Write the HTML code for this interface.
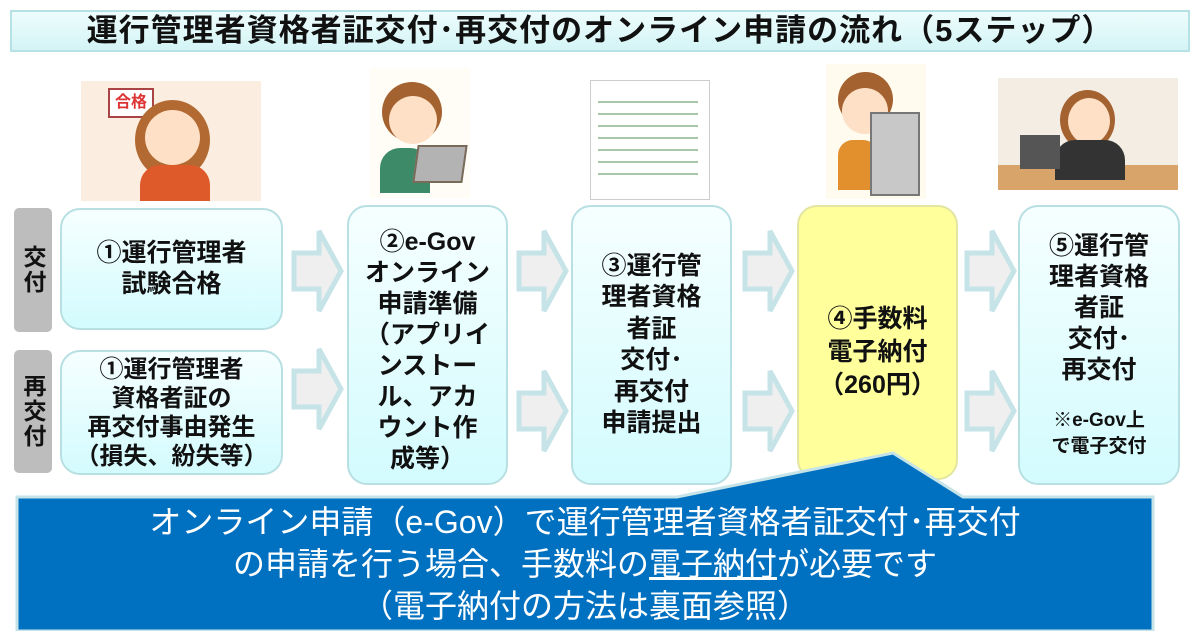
<!DOCTYPE html>
<html><head><meta charset="utf-8"><style>
*{margin:0;padding:0;box-sizing:border-box}
body{width:1200px;height:631px;background:#fff;position:relative;overflow:hidden;font-family:"Liberation Sans","Noto Sans CJK JP",sans-serif;font-weight:bold;color:#111}
.a{position:absolute}
.title{left:10px;top:10px;width:1180px;height:42px;background:linear-gradient(#eefcfc,#d4f4f6);border:2px solid #b6e2e6;font-size:31px;text-align:center;line-height:38px;letter-spacing:1px}
.side{background:#bdbdbd;border-radius:5px;width:38px;font-size:23px;display:flex;align-items:center;justify-content:center;writing-mode:vertical-rl;text-orientation:upright;letter-spacing:2px}
.box{background:linear-gradient(#f6ffff,#d3fbfe);border:2px solid #b8dfe2;border-radius:20px;display:flex;align-items:center;justify-content:center;text-align:center;font-size:25px;line-height:31px;white-space:nowrap}
.yel{background:#ffff9c;border-color:#e3e6a0}
</style></head><body>
<div class="a title">運行管理者資格者証交付･再交付のオンライン申請の流れ（5ステップ）</div>

<div class="a" style="left:81px;top:81px;width:180px;height:120px;background:#fbeee0"></div>
<div class="a" style="left:108px;top:88px;width:46px;height:30px;background:#fff;border:2px solid #a44;color:#d33;font-size:16px;text-align:center;line-height:26px">合格</div>
<div class="a" style="left:135px;top:100px;width:75px;height:80px;border-radius:50%;background:#b26a32"></div>
<div class="a" style="left:145px;top:110px;width:55px;height:55px;border-radius:50%;background:#fde0c6"></div>
<div class="a" style="left:140px;top:165px;width:70px;height:36px;border-radius:20px 20px 0 0;background:#de5a2a"></div>

<div class="a" style="left:370px;top:68px;width:100px;height:130px;background:#fffdf6"></div>
<div class="a" style="left:382px;top:82px;width:60px;height:60px;border-radius:50%;background:#a46231"></div>
<div class="a" style="left:389px;top:96px;width:48px;height:48px;border-radius:50%;background:#fde0c6"></div>
<div class="a" style="left:380px;top:148px;width:50px;height:45px;border-radius:20px 20px 0 0;background:#3c8a68"></div>
<div class="a" style="left:415px;top:145px;width:50px;height:38px;background:#b3b3b3;border:2px solid #7a6a5a;transform:skewX(-8deg)"></div>

<div class="a" style="left:590px;top:80px;width:120px;height:120px;background:#fff;border:1px solid #ccc"></div>
<div class="a" style="left:598px;top:95px;width:100px;height:90px;background:repeating-linear-gradient(#fff 0 6px,#a9c7a9 6px 8px,#fff 8px 12px)"></div>

<div class="a" style="left:826px;top:64px;width:100px;height:135px;background:#fffbef"></div>
<div class="a" style="left:838px;top:72px;width:55px;height:55px;border-radius:50%;background:#a46231"></div>
<div class="a" style="left:842px;top:88px;width:46px;height:46px;border-radius:50%;background:#fde0c6"></div>
<div class="a" style="left:838px;top:140px;width:40px;height:50px;border-radius:15px 15px 0 0;background:#e2902e"></div>
<div class="a" style="left:870px;top:112px;width:50px;height:84px;background:#c8c8c8;border:2px solid #777"></div>

<div class="a" style="left:998px;top:78px;width:180px;height:112px;background:#f4ede4"></div>
<div class="a" style="left:998px;top:165px;width:180px;height:25px;background:#d8a46a"></div>
<div class="a" style="left:1060px;top:90px;width:55px;height:60px;border-radius:50%;background:#a46231"></div>
<div class="a" style="left:1068px;top:98px;width:42px;height:46px;border-radius:50%;background:#fde0c6"></div>
<div class="a" style="left:1055px;top:140px;width:70px;height:40px;border-radius:20px 20px 0 0;background:#333"></div>
<div class="a" style="left:1020px;top:135px;width:40px;height:34px;background:#555"></div>

<div class="a side" style="left:14px;top:208px;height:124px">交付</div>
<div class="a side" style="left:14px;top:350px;height:123px">再交付</div>

<div class="a box" style="left:60px;top:208px;width:223px;height:122px">①運行管理者<br>試験合格</div>
<div class="a box" style="left:60px;top:350px;width:223px;height:125px;line-height:29px;font-size:24px">①運行管理者<br>資格者証の<br>再交付事由発生<br>（損失、紛失等）</div>
<div class="a box" style="left:347px;top:205px;width:161px;height:280px;align-items:flex-start;padding-top:20px;line-height:31px">②e-Gov<br>オンライン<br>申請準備<br>（アプリイ<br>ンストー<br>ル、アカ<br>ウント作<br>成等）</div>
<div class="a box" style="left:571px;top:205px;width:161px;height:280px;line-height:31.5px">③運行管<br>理者資格<br>者証<br>交付･<br>再交付<br>申請提出</div>
<div class="a box yel" style="left:797px;top:205px;width:161px;height:275px;align-items:flex-start;padding-top:96px;line-height:33px">④手数料<br>電子納付<br>（260円）</div>
<div class="a box" style="left:1018px;top:205px;width:162px;height:280px;display:block;padding-top:24px;line-height:31px">⑤運行管<br>理者資格<br>者証<br>交付･<br>再交付<div style="font-size:19px;line-height:26px;margin-top:22px">※e-Gov上<br>で電子交付</div></div>

<svg class="a" style="left:0;top:0" width="1200" height="631">
<defs><g id="ar"><polygon points="0,-18 25,-18 25,-40 47,0 25,40 25,18 0,18" fill="#efefef" stroke="#c6e4e8" stroke-width="5"/></g></defs>
<use href="#ar" x="294" y="271"/><use href="#ar" x="294" y="389"/>
<use href="#ar" x="519" y="271"/><use href="#ar" x="519" y="411"/>
<use href="#ar" x="745" y="271"/><use href="#ar" x="745" y="411"/>
<use href="#ar" x="967" y="271"/><use href="#ar" x="967" y="411"/>
<polygon points="17,497 677,497 893,453 963,497 1153,497 1153,631 17,631" fill="#0070c0" stroke="#c6e4e8" stroke-width="3"/>
</svg>
<div class="a" style="left:17px;top:501px;width:1136px;text-align:center;color:#fff;font-weight:normal;font-size:32px;line-height:42px;white-space:nowrap">オンライン申請（e-Gov）で運行管理者資格者証交付･再交付<br>の申請を行う場合、手数料の<u>電子納付</u>が必要です<br>（電子納付の方法は裏面参照）</div>
</body></html>
